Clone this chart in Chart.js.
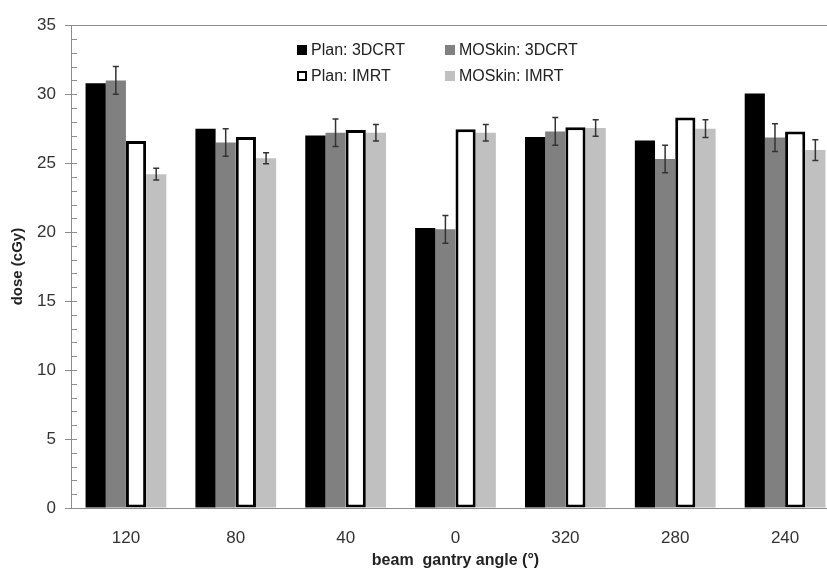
<!DOCTYPE html>
<html>
<head>
    <title>Dose per beam angle</title>
    <script src="https://cdn.jsdelivr.net/npm/chart.js"></script>
    <style>
        html, body { margin: 0; padding: 0; overflow: hidden; background: #fff; }
        #wrap { position: relative; width: 845px; height: 570px; }
        #legend { position: absolute; left: 0; top: 0; font-family: 'Liberation Sans', Arial, sans-serif; font-size: 16px; color: #222; }
        .item { position: absolute; white-space: nowrap; line-height: 18px; }
        .box { position: absolute; width: 10px; height: 10px; box-sizing: border-box; }
    </style>
</head>
<body>
<div id="wrap">
    <canvas id="doseChart" width="845" height="570"></canvas>
    <div id="legend"></div>
</div>

<script>
    // beam gantry angles (categories)
    const angles = ['120', '80', '40', '0', '320', '280', '240'];

    // dose values in cGy
    const plan3dcrt = [30.8, 27.5, 27.0, 20.3, 26.9, 26.65, 30.05];
    const moskin3dcrt = [31.0, 26.5, 27.2, 20.2, 27.3, 25.3, 26.85];
    const planImrt = [26.6, 26.9, 27.4, 27.45, 27.6, 28.3, 27.3];
    const moskinImrt = [24.2, 25.35, 27.2, 27.2, 27.55, 27.5, 25.95];

    // error bars (+/-) of the MOSkin measurements
    const moskin3dcrtErr = [1.0, 1.0, 1.0, 1.0, 1.0, 1.0, 1.0];
    const moskinImrtErr = [0.43, 0.4, 0.6, 0.6, 0.6, 0.65, 0.75];

    const yTicks = [0, 5, 10, 15, 20, 25, 30, 35];

    const axisGrey = '#8c8c8c';
    const textGrey = '#333';
    const fontName = "'Liberation Sans', Arial, sans-serif";

    // error bars, drawn at each bar's x through the y scale
    const errorBars = {
        id: 'errorBars',
        afterDatasetsDraw(chart) {
            const ctx = chart.ctx;
            const y = chart.scales.y;
            chart.data.datasets.forEach((ds, i) => {
                if (!ds.err) return;
                const meta = chart.getDatasetMeta(i);
                meta.data.forEach((bar, j) => {
                    const v = ds.data[j], e = ds.err[j];
                    const top = y.getPixelForValue(v + e);
                    const bot = y.getPixelForValue(v - e);
                    ctx.save();
                    ctx.strokeStyle = '#333';
                    ctx.lineWidth = 1.5;
                    ctx.beginPath();
                    ctx.moveTo(bar.x, top); ctx.lineTo(bar.x, bot);
                    ctx.moveTo(bar.x - 3, top); ctx.lineTo(bar.x + 3, top);
                    ctx.moveTo(bar.x - 3, bot); ctx.lineTo(bar.x + 3, bot);
                    ctx.stroke();
                    ctx.restore();
                });
            });
        }
    };

    // major ticks cross the y axis, minor ticks point inward
    const yTickMarks = {
        id: 'yTickMarks',
        afterDraw(chart) {
            const ctx = chart.ctx;
            const y = chart.scales.y;
            const x0 = chart.chartArea.left;
            ctx.save();
            ctx.strokeStyle = axisGrey;
            ctx.lineWidth = 1;
            y.ticks.forEach(t => {
                const py = Math.round(y.getPixelForValue(t.value)) + 0.5;
                const major = t.value % 5 === 0;
                ctx.beginPath();
                ctx.moveTo(major ? x0 - 6 : x0, py);
                ctx.lineTo(x0 + 6, py);
                ctx.stroke();
            });
            ctx.restore();
        }
    };

    const ctx = document.getElementById('doseChart').getContext('2d');
    const chart = new Chart(ctx, {
        type: 'bar',
        data: {
            labels: angles,
            datasets: [
                { label: 'Plan: 3DCRT', data: plan3dcrt, backgroundColor: '#000' },
                { label: 'MOSkin: 3DCRT', data: moskin3dcrt, backgroundColor: '#808080', err: moskin3dcrtErr },
                { label: 'Plan: IMRT', data: planImrt, backgroundColor: '#fff', borderColor: '#000', borderWidth: 3, borderSkipped: false },
                { label: 'MOSkin: IMRT', data: moskinImrt, backgroundColor: '#c0c0c0', err: moskinImrtErr }
            ]
        },
        options: {
            responsive: false,
            animation: false,
            layout: { padding: { top: 22, right: 5, left: 0, bottom: 0 } },
            datasets: { bar: { categoryPercentage: 0.735, barPercentage: 1.0 } },
            plugins: {
                legend: { display: false },
                tooltip: { enabled: false }
            },
            scales: {
                x: {
                    grid: { display: false, drawTicks: false },
                    border: { color: axisGrey, width: 1 },
                    ticks: { color: textGrey, font: { family: fontName, size: 17 }, padding: 20 },
                    title: {
                        display: true,
                        text: 'beam  gantry angle (°)',
                        color: '#222',
                        font: { family: fontName, size: 16, weight: 'bold' },
                        padding: { top: 4, bottom: 0 }
                    },
                    afterFit(scale) { scale.height = 62; }
                },
                y: {
                    min: 0,
                    max: 35,
                    grid: {
                        drawTicks: false,
                        color: c => (c.tick && c.tick.value === 35) ? axisGrey : 'transparent'
                    },
                    border: { color: axisGrey, width: 1 },
                    ticks: {
                        stepSize: 1,
                        autoSkip: false,
                        padding: 15,
                        color: textGrey,
                        font: { family: fontName, size: 17 },
                        callback: v => yTicks.includes(v) ? String(v) : ''
                    },
                    title: {
                        display: true,
                        text: 'dose (cGy)',
                        color: '#222',
                        font: { family: fontName, size: 15, weight: 'bold' },
                        padding: { top: 9, bottom: 0 }
                    },
                    afterFit(scale) { scale.width = 71; }
                }
            }
        },
        plugins: [errorBars, yTickMarks]
    });

    // legend placed inside the plot, two columns
    const legendPos = [[297, 41], [445, 41], [297, 67], [445, 67]];
    const legendEl = document.getElementById('legend');
    chart.data.datasets.forEach((ds, i) => {
        const item = document.createElement('div');
        item.className = 'item';
        item.style.left = legendPos[i][0] + 'px';
        item.style.top = legendPos[i][1] + 'px';
        const box = document.createElement('span');
        box.className = 'box';
        box.style.left = '0px';
        box.style.top = '4px';
        box.style.background = ds.backgroundColor;
        if (ds.borderWidth) box.style.border = '2.5px solid ' + ds.borderColor;
        const txt = document.createElement('span');
        txt.style.marginLeft = '14px';
        txt.textContent = ds.label;
        item.appendChild(box);
        item.appendChild(txt);
        legendEl.appendChild(item);
    });
</script>
</body>
</html>
